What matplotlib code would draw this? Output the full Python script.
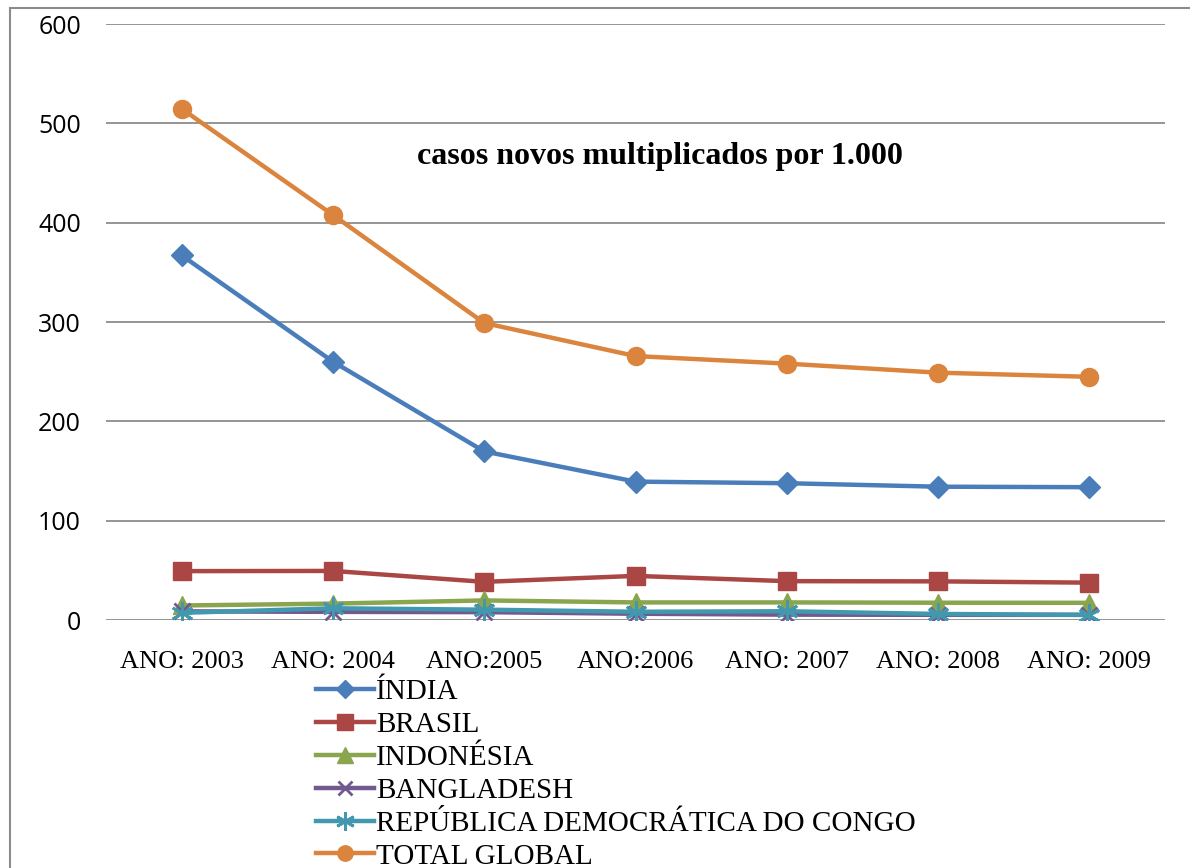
import matplotlib.pyplot as plt
from matplotlib.patches import Rectangle

# novos casos por ano (milhares)
anos = ["ANO: 2003", "ANO: 2004", "ANO:2005", "ANO:2006", "ANO: 2007", "ANO: 2008", "ANO: 2009"]
india = [367.1, 260.1, 169.7, 139.3, 137.7, 134.2, 133.7]
brasil = [49.2, 49.4, 38.4, 44.4, 39.1, 38.9, 37.6]
indonesia = [14.6, 16.5, 19.7, 17.7, 17.7, 17.4, 17.3]
bangladesh = [8.7, 8.2, 7.9, 6.3, 5.4, 5.2, 5.2]
congo = [7.2, 11.8, 10.4, 8.3, 8.8, 6.1, 5.1]
total_global = [514.7, 407.8, 299.0, 265.7, 258.1, 249.0, 244.8]

series = [
    ("ÍNDIA", india, "#4A7EBB", "D", 11),
    ("BRASIL", brasil, "#AA4643", "s", 13),
    ("INDONÉSIA", indonesia, "#89A54E", "^", 13),
    ("BANGLADESH", bangladesh, "#71588F", "x", 12),
    ("REPÚBLICA DEMOCRÁTICA DO CONGO", congo, "#4198AF", (6, 2, 0), 16),
    ("TOTAL GLOBAL", total_global, "#DB843D", "o", 13),
]

fig = plt.figure(figsize=(11.9, 8.68), dpi=100)
ax = fig.add_axes([106 / 1190, 1 - 620 / 868, 1059 / 1190, 596 / 868])

x = range(len(anos))
for name, vals, color, marker, ms in series:
    mew = 2 if marker in ("x", (6, 2, 0)) else 1
    ax.plot(x, vals, color=color, lw=3.2, marker=marker, markersize=ms,
            markeredgecolor=color, markeredgewidth=mew, label=name)

ax.set_xlim(-0.5, len(anos) - 0.5)
ax.set_ylim(0, 600)
ax.set_yticks(range(0, 601, 100))
ax.grid(axis="y", color="#8c8c8c", lw=1.3)
ax.set_axisbelow(True)
for s in ax.spines.values():
    s.set_visible(False)
ax.tick_params(length=0)
ax.tick_params(axis="y", pad=18, labelsize=18)
ax.tick_params(axis="x", pad=22)
ax.set_xticks(list(x))
ax.set_xticklabels(anos, fontfamily="Liberation Serif", fontsize=19)
for lbl in ax.get_yticklabels():
    lbl.set_fontfamily("Open Sans")

ax.text(0.523, 0.777, "casos novos multiplicados por 1.000", transform=ax.transAxes,
        ha="center", va="center", fontfamily="Liberation Serif",
        fontweight="bold", fontsize=23)

fig.legend(loc="upper left", bbox_to_anchor=(316 / 1190, 1 - 679 / 868),
           frameon=False, prop={"family": "Liberation Serif", "size": 21},
           handlelength=2.0, handletextpad=0.05, labelspacing=0.22,
           markerscale=0.85, borderpad=0, borderaxespad=0)

# moldura do gráfico
fig.patches.append(Rectangle((10 / 1190, -0.05), 1.2, 1 - 8 / 868 + 0.05,
                             transform=fig.transFigure, fill=False,
                             edgecolor="#8c8c8c", lw=1.5))

fig.savefig("out.png", dpi=100)
